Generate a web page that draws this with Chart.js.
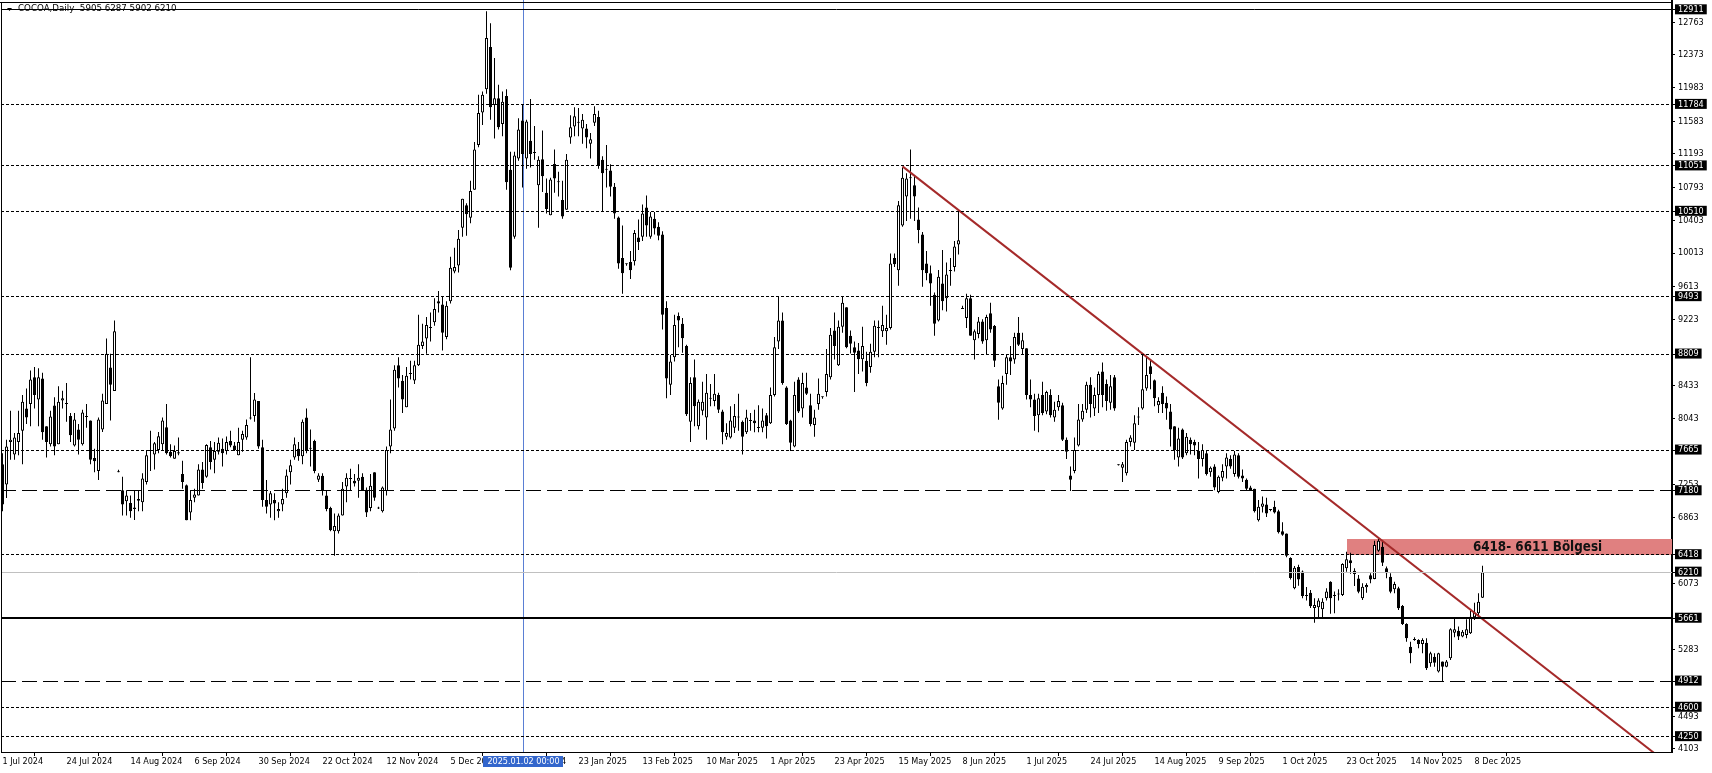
<!DOCTYPE html>
<html><head><meta charset="utf-8">
<script src="https://cdn.jsdelivr.net/npm/chart.js@4.4.1/dist/chart.umd.min.js"></script>
<style>html,body{margin:0;padding:0;background:#fff;overflow:hidden}canvas{display:block}</style>
</head><body>
<canvas id="c" width="1712" height="773"></canvas>
<script>
// ---- data (daily candles, bar 0 = 1 Jul 2024) ----
const opens = [
7495,7256,7760,7612,7761,7895,8160,8214,8533,8267,
8517,7948,7735,8197,7735,8256,8214,8070,7719,7911,
7735,8065,8017,7570,7416,7911,8214,8650,8368,7400,
7187,7054,7033,6980,7081,7044,7283,7655,7612,7666,
7735,7937,7645,7560,7639,7379,7246,6921,7097,7123,
7432,7347,7698,7549,7645,7682,7655,7772,7719,7602,
7788,7815,8040,8070,8251,7698,7070,7017,7070,6937,
7017,7150,7400,7576,7682,7592,8054,7682,7772,7310,
7358,7123,6974,6697,6697,6884,7230,7325,7299,7299,
7347,7192,6974,7400,6974,6937,7176,7708,7921,8676,
8490,8176,8570,8495,8676,8905,8995,9118,9187,9437,
9400,9011,9437,9793,9863,10315,10581,10432,10767,11299,
11687,11964,12469,11778,11857,11549,11884,11006,10208,11139,
11591,11139,11352,11208,10820,11129,10730,10464,11075,10858,
10645,10528,11389,11522,11565,11496,11496,11315,11565,11634,
11123,11006,10996,10804,10437,9953,9878,9905,9916,10198,
10208,10554,10208,10421,10326,10235,9357,8442,8772,9261,
9171,8905,8001,8533,7948,8134,8054,8277,8251,8320,
8123,7825,7815,7932,8054,8001,7878,8017,8017,7932,
7932,8081,7985,8320,8958,9208,8410,8017,7708,8506,
8161,8410,8198,7964,8214,8294,8357,8533,9091,8676,
9134,9368,9027,8889,8852,8746,8729,8655,8836,9118,
9080,9080,9118,9953,9809,10341,10687,10911,10820,10411,
10235,9889,9772,9516,9208,9650,9474,9798,9847,10113,
9347,9240,9474,8974,9048,9198,8974,9294,9144,8426,
8160,8570,8772,8745,9064,8868,8878,8320,8267,8081,
8320,8123,8320,8054,8176,8198,7788,7363,7416,7719,
8028,8145,8442,8161,8320,8602,8453,8230,8533,7485,
7453,7389,7761,7751,8054,8161,8400,8665,8496,8198,
8347,8230,8123,7948,7576,7911,7628,7788,7761,7655,
7559,7628,7400,7469,7166,7336,7469,7559,7379,7602,
7363,7310,7219,7203,6830,6990,7017,6953,6990,6937,
6697,6671,6378,6017,6272,6219,5927,5964,5783,5793,
5767,5900,6097,5927,5943,5938,6256,6352,6228,6133,
5898,6029,6172,6129,6466,6514,6256,6156,6005,6017,
5807,5592,5322,5402,5402,5354,5370,5124,5203,5025,
5144,5084,5183,5489,5513,5442,5461,5481,5672,5719,
5905];
const highs = [
7628,7788,8134,7868,8134,8320,8400,8612,8655,8640,
8586,7948,8134,8293,8426,8373,8464,8107,8107,7975,
8145,8214,8017,7681,8054,8336,8995,8814,9209,7430,
7347,7187,7123,7187,7176,7389,7655,7894,7761,7879,
8054,8214,7735,7719,7815,7538,7256,7176,7203,7496,
7522,7735,7772,7761,7815,7804,7826,7894,7761,7932,
7894,8028,8772,8346,8251,7788,7309,7176,7150,7044,
7203,7432,7549,7815,7761,8028,8161,7911,7788,7389,
7389,7176,6990,6910,6910,7283,7389,7442,7379,7496,
7389,7219,7379,7400,6990,7230,7708,8267,8676,8772,
8559,8655,8730,8730,9278,9171,9251,9304,9475,9560,
9491,9437,9969,10075,10288,10661,10607,10873,11336,11900,
11937,12895,12751,12336,12017,11937,11964,11219,11219,11618,
11777,11602,11847,11527,11166,11474,10900,10910,11246,10980,
10873,11192,11655,11751,11740,11671,11549,11442,11762,11709,
11166,11299,11070,10847,10448,10342,9889,10038,10288,10411,
10591,10698,10501,10501,10379,10272,9437,8799,9278,9304,
9240,8921,8533,8745,8267,8479,8570,8453,8570,8347,
8145,7985,8187,8214,8336,8017,8145,8107,8145,8198,
8161,8107,8410,9011,9490,9304,8426,8027,8479,8533,
8586,8586,8336,8145,8517,8304,8868,9118,9304,9208,
9490,9368,9091,8958,8942,9134,8836,8932,9208,9208,
9384,9277,10007,10007,10634,11033,10964,11246,10927,10554,
10262,10038,9863,9543,9810,10049,9900,9953,10155,10517,
9384,9527,9516,9102,9251,9224,9277,9421,9155,8506,
8549,8799,8905,9064,9251,9064,8878,8506,8336,8336,
8479,8373,8389,8240,8320,8230,7815,7469,7815,8214,
8214,8479,8533,8410,8602,8708,8506,8559,8559,7496,
7522,7788,7842,8081,8176,8799,8772,8730,8506,8293,
8426,8304,8214,7948,7932,7921,7868,7815,7788,7761,
7735,7655,7469,7496,7363,7496,7628,7602,7655,7628,
7432,7325,7240,7203,7070,7113,7097,6964,7060,6953,
6804,6671,6389,6283,6299,6230,6033,5996,5900,5900,
5900,6017,6102,5980,6006,6315,6454,6442,6256,6176,
6077,6077,6196,6585,6613,6573,6276,6196,6097,6037,
5819,5600,5382,5434,5410,5422,5422,5263,5243,5251,
5144,5164,5541,5660,5561,5521,5648,5751,5846,5958,
6287];
const lows = [
6937,7095,7549,7549,7602,7496,7975,7948,8161,7948,
7788,7576,7708,7602,7735,8160,8001,7761,7708,7612,
7719,7932,7496,7400,7309,7879,8214,8017,8368,7400,
6884,6884,6857,6831,6937,6937,7256,7416,7432,7628,
7666,7612,7576,7560,7602,7203,6830,6830,7044,7123,
7203,7336,7432,7389,7612,7469,7612,7698,7655,7602,
7645,7788,8028,8001,7682,6990,6910,6857,6830,6857,
6937,7097,7256,7549,7538,7496,7628,7469,7389,7283,
7123,6937,6697,6405,6671,6884,7044,7176,7230,7097,
7176,6868,6937,7060,6964,6921,7123,7628,7895,8410,
8107,8176,8506,8453,8666,8868,8814,8958,9145,9304,
8852,8985,9411,9772,9782,10208,10219,10368,10767,11272,
11538,11911,11602,11379,11485,11405,10767,9809,10182,11113,
10794,11017,11033,11123,10315,10740,10485,10464,10730,10687,
10421,10528,11315,11405,11405,11315,11262,11139,11528,11017,
10501,10794,10687,10421,9826,9527,9862,9703,9863,10049,
10155,10208,10182,10235,10166,9102,8283,8320,8719,8889,
8825,8070,7762,7948,7910,8081,7788,8187,8187,8107,
7735,7788,7804,7868,7895,7612,7857,7895,7878,7878,
7878,7804,7975,8304,8868,8442,7964,7655,7698,8107,
8054,8320,7948,7825,8145,8277,8304,8506,8745,8666,
9064,8878,8815,8357,8570,8602,8426,8586,8772,8772,
9011,8921,9102,9847,9623,10325,10395,10421,10395,10129,
9612,9687,9384,9027,9198,9331,9315,9623,9793,9995,
9347,9118,9027,8745,8996,8932,8799,9064,8655,8027,
8145,8442,8559,8692,8905,8799,8267,8176,7895,7878,
8081,8091,8054,8001,8134,7772,7559,7176,7389,7708,
8001,8107,8054,8070,8107,8176,8134,8145,8134,7480,
7283,7363,7708,7666,7964,8145,8373,8389,8187,8107,
8107,8027,7708,7549,7469,7559,7602,7612,7602,7325,
7469,7363,7347,7187,7150,7293,7325,7442,7347,7325,
7283,7187,7176,6921,6815,6921,6868,6937,6910,6671,
6644,6389,6123,6006,6049,5900,5873,5783,5607,5676,
5660,5873,5714,5720,5873,5927,6216,6192,6045,5958,
5878,5966,6077,6125,6454,6284,6137,5958,5958,5759,
5580,5382,5124,5394,5303,5243,5044,5084,5084,5013,
4913,5076,5164,5434,5402,5434,5422,5473,5640,5699,
5902];
const closes = [
7015,7708,7788,7815,7868,8240,8054,8506,8320,8533,
7878,7761,8065,7708,8240,8282,8214,7842,8028,7788,
8112,8060,7549,7533,8028,8256,8814,8442,9081,7400,
7017,7123,6937,6964,7060,7325,7602,7660,7745,7830,
8017,7628,7592,7655,7623,7283,6830,7070,7134,7432,
7272,7724,7522,7655,7751,7628,7761,7719,7666,7761,
7857,7964,8054,8267,7708,7070,6990,7150,7027,6964,
7081,7363,7485,7735,7592,8001,7655,7680,7416,7363,
7176,6964,6708,6761,6884,7203,7336,7320,7267,7336,
7187,6921,7240,7097,6970,7219,7666,7911,8623,8517,
8267,8549,8570,8676,8921,8958,9155,9118,9347,9411,
9064,9384,9836,9847,10182,10661,10474,10751,11246,11682,
11900,12576,11751,11857,11512,11815,10857,9836,11176,11485,
11192,11581,11192,11206,11123,10927,10538,10889,10900,10857,
10448,11123,11511,11644,11565,11602,11389,11368,11671,11049,
10964,11006,10804,10485,9889,9772,9878,9809,10251,10145,
10485,10342,10448,10304,10219,9277,8517,8719,9155,9208,
8996,8091,8464,8187,8240,8240,8347,8277,8336,8145,
7878,7868,8017,8070,8054,7825,8054,8010,7985,7928,
8017,7948,8320,8889,9208,8464,7975,7751,8320,8123,
8464,8336,7975,8054,8336,8294,8570,9038,8905,9134,
9421,8889,8932,8825,8746,8905,8464,8836,9145,9118,
9155,9118,9889,9879,10581,10911,10900,10905,10687,10288,
9809,9772,9650,9171,9730,9437,9756,9798,10092,10166,
9347,9474,9027,9081,9198,8958,9251,9102,8730,8230,
8464,8772,8719,9011,8921,8974,8320,8267,8070,8283,
8107,8357,8081,8145,8251,7788,7644,7310,7666,8028,
8134,8442,8214,8320,8570,8320,8251,8426,8161,7485,
7496,7761,7815,7985,8054,8389,8559,8570,8283,8251,
8214,8161,7910,7666,7804,7576,7825,7735,7719,7559,
7666,7379,7453,7219,7347,7416,7576,7469,7612,7347,
7325,7203,7187,6937,6990,7027,6910,6950,6921,6687,
6655,6405,6139,6262,6123,5927,5925,5804,5820,5873,
5857,5980,5898,5925,5943,6307,6363,6315,6188,5978,
6037,6057,6124,6534,6585,6323,6196,5978,6069,5779,
5592,5422,5243,5402,5354,5402,5064,5243,5132,5243,
5084,5144,5529,5529,5442,5501,5529,5680,5727,5858,
6210];

const xTickIndex = [0,16,32,48,64,80,96,112,128,144,160,176,192,208,224,240,256,272,288,304,320,336,352,368];
const xTickLabels = ["1 Jul 2024","24 Jul 2024","14 Aug 2024","6 Sep 2024","30 Sep 2024","22 Oct 2024","12 Nov 2024","5 Dec 2024","30 Dec 2024","23 Jan 2025","13 Feb 2025","10 Mar 2025","1 Apr 2025","23 Apr 2025","15 May 2025","8 Jun 2025","1 Jul 2025","24 Jul 2025","14 Aug 2025","9 Sep 2025","1 Oct 2025","23 Oct 2025","14 Nov 2025","8 Dec 2025"];
const yTickValues = [12763,12373,11983,11583,11193,10793,10403,10013,9613,9223,8433,8043,7253,6863,6073,5283,4493,4103];

const solidLevels = [12911];
const dottedLevels = [11784,11051,10510,9493,8809,7665,6418,4600,4250];
const dashedLevels = [7180,4912];
const bidLevel = [6210];
const thickLevels = [5661];
const markedLevels = [12911,11784,11051,10510,9493,8809,7665,7180,6418,6210,5661,4912,4600,4250];

const zoneStartBar = 336;
const zoneLow = 6418, zoneHigh = 6611;
const zoneLabel = "6418- 6611 Bölgesi";
const zoneLabelBar = 367.6;

const trendBars = [225, 420];
const trendPrices = [11045, 3791];

const cursorBar = 130;
const cursorLabel = "2025.01.02 00:00";
const titleText = "COCOA,Daily  5905 6287 5902 6210";

// ---- build datasets ----
const wickData = [], bodyData = [], bodyFill = [];
for (let i = 0; i < opens.length; i++) {
  wickData.push({x: i, y: [lows[i], highs[i]]});
  bodyData.push({x: i, y: [Math.min(opens[i], closes[i]), Math.max(opens[i], closes[i])]});
  bodyFill.push(closes[i] - opens[i] > 12 ? '#ffffff' : '#000000');
}
const trendData = trendBars.map((b, i) => ({x: b, y: trendPrices[i]}));

const FONT = "'DejaVu Sans Condensed', 'DejaVu Sans', sans-serif";

function hline(ctx, a, y, dash, color, width) {
  ctx.save();
  ctx.beginPath();
  ctx.setLineDash(dash);
  ctx.strokeStyle = color;
  ctx.lineWidth = width;
  const yy = (width % 2) ? Math.round(y - 0.5) + 0.5 : Math.round(y);
  ctx.moveTo(a.left, yy);
  ctx.lineTo(a.right, yy);
  ctx.stroke();
  ctx.restore();
}

const overlay = {
  id: 'overlay',
  beforeDatasetsDraw(chart) {
    const {ctx, chartArea: a, scales: {x, y}} = chart;
    const x0 = Math.round(x.getPixelForValue(zoneStartBar));
    const y0 = Math.round(y.getPixelForValue(zoneHigh));
    const y1 = Math.round(y.getPixelForValue(zoneLow));
    ctx.save();
    ctx.fillStyle = '#e08080';
    ctx.fillRect(x0, y0, a.right - x0, y1 - y0);
    ctx.restore();
    const cx = Math.round(x.getPixelForValue(cursorBar)) + 0.5;
    ctx.save();
    ctx.strokeStyle = '#5a7fd4';
    ctx.lineWidth = 1;
    ctx.beginPath();
    ctx.moveTo(cx, a.top);
    ctx.lineTo(cx, a.bottom);
    ctx.stroke();
    ctx.restore();
  },
  afterDatasetsDraw(chart) {
    const {ctx, chartArea: a, scales: {x, y}} = chart;
    solidLevels.forEach(v => hline(ctx, a, y.getPixelForValue(v), [], '#000', 1));
    dottedLevels.forEach(v => hline(ctx, a, y.getPixelForValue(v), [3, 2], '#000', 1));
    dashedLevels.forEach(v => hline(ctx, a, y.getPixelForValue(v), [15, 6], '#000', 1));
    bidLevel.forEach(v => hline(ctx, a, y.getPixelForValue(v), [], '#c0c0c0', 1));
    thickLevels.forEach(v => hline(ctx, a, y.getPixelForValue(v), [], '#000', 2));
    ctx.save();
    ctx.fillStyle = '#111';
    ctx.font = "bold 13.3px 'DejaVu Sans Condensed', 'Liberation Sans Narrow', 'DejaVu Sans', sans-serif";
    ctx.textAlign = 'left';
    ctx.textBaseline = 'middle';
    ctx.fillText(zoneLabel, x.getPixelForValue(zoneLabelBar), y.getPixelForValue((zoneLow + zoneHigh) / 2) + 1);
    ctx.restore();
    ctx.save();
    ctx.strokeStyle = '#000';
    ctx.lineWidth = 1;
    ctx.beginPath();
    ctx.moveTo(0, 2.5); ctx.lineTo(a.right, 2.5);
    ctx.moveTo(1.5, 2); ctx.lineTo(1.5, a.bottom);
    ctx.stroke();
    ctx.restore();
  },
  afterDraw(chart) {
    const {ctx, chartArea: a, scales: {x}} = chart;
    ctx.save();
    ctx.fillStyle = '#000';
    ctx.beginPath();
    ctx.moveTo(7, 8); ctx.lineTo(12, 8); ctx.lineTo(9.5, 11); ctx.closePath();
    ctx.fill();
    ctx.font = "8.7px 'DejaVu Sans', sans-serif";
    ctx.textBaseline = 'middle';
    ctx.fillText(titleText, 18, 9);
    ctx.restore();
    const cx = Math.round(x.getPixelForValue(cursorBar)) + 0.5;
    ctx.save();
    ctx.font = "9px " + FONT;
    const w = ctx.measureText(cursorLabel).width + 8;
    ctx.fillStyle = '#3366cc';
    ctx.fillRect(Math.round(cx - w / 2), a.bottom + 4, Math.round(w), 11);
    ctx.fillStyle = '#fff';
    ctx.textAlign = 'center';
    ctx.textBaseline = 'middle';
    ctx.fillText(cursorLabel, cx, a.bottom + 10);
    ctx.restore();
  }
};

new Chart(document.getElementById('c'), {
  type: 'bar',
  data: {
    datasets: [
      {type: 'line', data: trendData, borderColor: '#a52a2a', borderWidth: 2, pointRadius: 0, order: 0},
      {label: 'body', data: bodyData, backgroundColor: bodyFill, borderColor: '#000', borderWidth: 1,
       borderSkipped: false, barThickness: 3, grouped: false, minBarLength: 1, inflateAmount: 0, order: 1},
      {label: 'wick', data: wickData, backgroundColor: '#000', borderWidth: 0,
       barThickness: 1, grouped: false, inflateAmount: 0, order: 2}
    ]
  },
  options: {
    responsive: false,
    animation: false,
    devicePixelRatio: 1,
    layout: {padding: {left: 1, top: 0, right: 0, bottom: 0}},
    plugins: {legend: {display: false}, tooltip: {enabled: false}, title: {display: false}},
    scales: {
      x: {
        type: 'linear', min: -0.375, max: 417.375, offset: false,
        afterBuildTicks: s => { s.ticks = xTickIndex.map(v => ({value: v})); },
        afterFit: s => { s.height = 21; s.paddingLeft = 0; s.paddingRight = 0; },
        grid: {drawOnChartArea: false, drawTicks: true, tickLength: 4, color: '#000'},
        border: {display: true, color: '#000', width: 1},
        ticks: {
          autoSkip: false, maxRotation: 0, minRotation: 0, align: 'start', padding: 1,
          color: '#000', font: {family: FONT, size: 9, lineHeight: 1.1},
          callback: (v) => { const k = xTickIndex.indexOf(v); return k >= 0 ? xTickLabels[k] : ''; }
        }
      },
      y: {
        type: 'linear', position: 'right', min: 4067, max: 13028,
        afterBuildTicks: s => { s.ticks = yTickValues.concat(markedLevels).map(v => ({value: v})); },
        afterFit: s => { s.width = 40; s.paddingTop = 0; s.paddingBottom = 0; },
        grid: {drawOnChartArea: false, drawTicks: true, tickLength: 3, color: '#000'},
        border: {display: true, color: '#000', width: 2},
        ticks: {
          padding: 3, color: ctx => markedLevels.includes(ctx.tick.value) ? '#fff' : '#000',
          font: {family: FONT, size: 9, lineHeight: 1.0},
          showLabelBackdrop: ctx => markedLevels.includes(ctx.tick.value),
          backdropColor: ctx => markedLevels.includes(ctx.tick.value) ? '#000' : 'rgba(0,0,0,0)',
          backdropPadding: {top: 1, bottom: 0, left: 3, right: 3},
          callback: v => String(v)
        }
      }
    }
  },
  plugins: [overlay]
});
</script>
</body></html>
